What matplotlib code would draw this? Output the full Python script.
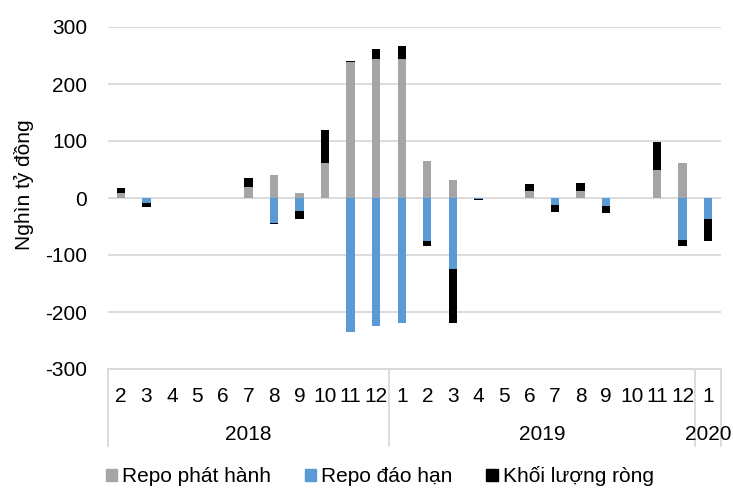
import numpy as np
import matplotlib
matplotlib.use('Agg')
from matplotlib import pyplot as plt
from matplotlib.transforms import blended_transform_factory
from matplotlib.patches import Patch

plt.rcParams['font.family'] = ['Liberation Sans', 'DejaVu Sans']
plt.rcParams['axes.unicode_minus'] = False

# months, Feb 2018 .. Jan 2020
months = ['2', '3', '4', '5', '6', '7', '8', '9', '10', '11', '12',
          '1', '2', '3', '4', '5', '6', '7', '8', '9', '10', '11', '12',
          '1']
years = ['2018', '2019', '2020']
year_counts = [11, 12, 1]

# nghin ty dong
repo_issue = [8, 0, 0, 0, 0, 19, 40, 8, 61, 238, 243,
              243, 65, 31, 0, 0, 12, 0, 13, 0, 0, 50, 61,
              0]
repo_mature = [0, -8, 0, 0, 0, 0, -43, -22, 0, -235, -224,
               -219, -75, -125, -2, 0, 0, -12, 0, -14, 0, 0, -73,
               -37]
net_volume = [9, -8, 0, 0, 0, 16, -2, -15, 59, 2, 18,
              24, -9, -95, -1, 0, 13, -12, 13, -13, 0, 48, -11,
              -38]

GRAY = '#a5a5a5'
BLUE = '#5b9bd5'
BLACK = '#000000'
GRID = '#d9d9d9'
FS = 15


def main():
    fig = plt.figure(figsize=(7.33, 4.91), dpi=100)
    ax = fig.add_axes([108 / 733, 1 - 369 / 491, 613 / 733, 342 / 491])

    x = np.arange(len(months))
    issue = np.array(repo_issue, dtype=float)
    mature = np.array(repo_mature, dtype=float)
    net = np.array(net_volume, dtype=float)
    net_bottom = np.where(net >= 0, issue, mature)

    w = 0.33
    ax.bar(x, issue, w, color=GRAY, zorder=3)
    ax.bar(x, mature, w, color=BLUE, zorder=3)
    ax.bar(x, net, w, bottom=net_bottom, color=BLACK, zorder=3)

    ax.set_xlim(-0.5, len(months) - 0.5)
    ax.set_ylim(-300, 300)
    ax.set_yticks(np.arange(-300, 301, 100))
    ax.set_xticks([])
    ax.yaxis.grid(True, color=GRID, linewidth=1.3, zorder=0)
    for s in ['top', 'right', 'left']:
        ax.spines[s].set_visible(False)
    ax.spines['bottom'].set_color(GRID)
    ax.spines['bottom'].set_linewidth(1.3)
    ax.tick_params(axis='y', length=0, pad=15, labelsize=FS)
    ax.set_ylabel('Nghìn tỷ đồng', fontsize=FS)
    ax.yaxis.set_label_coords(-0.121, 0.54)

    # two level category axis
    tr = blended_transform_factory(ax.transData, fig.transFigure)
    for i, m in enumerate(months):
        ax.text(i, 1 - 396 / 491, m, transform=tr, ha='center',
                va='center', fontsize=FS)
    start = 0
    edges = [-0.5]
    for yr, n in zip(years, year_counts):
        ax.text(start + (n - 1) / 2, 1 - 435 / 491, yr, transform=tr,
                ha='center', va='center', fontsize=FS)
        start += n
        edges.append(start - 0.5)
    for e in edges:
        ax.plot([e, e], [1 - 369 / 491, 1 - 446 / 491], transform=tr,
                color=GRID, linewidth=1.3, clip_on=False)

    handles = [Patch(color=GRAY), Patch(color=BLUE), Patch(color=BLACK)]
    labels = ['Repo phát hành', 'Repo đáo hạn', 'Khối lượng ròng']
    fig.legend(handles, labels, loc='center', bbox_to_anchor=(0.518, 0.03),
               ncol=3, frameon=False, fontsize=FS, handlelength=0.55,
               handleheight=0.55, handletextpad=0.25, columnspacing=1.6)

    fig.savefig('out.png', dpi=100)


if __name__ == '__main__':
    main()
